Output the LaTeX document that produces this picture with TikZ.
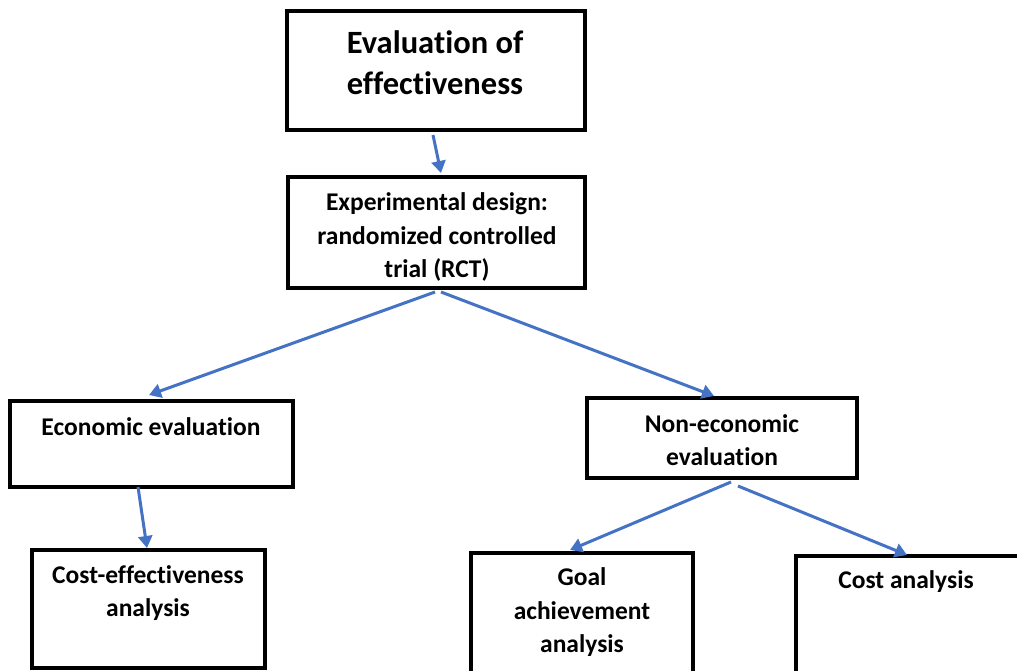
\documentclass[tikz,border=0pt]{standalone}
\usepackage{fontspec}
\setmainfont{Carlito}[Ligatures=CommonOff]
\usetikzlibrary{arrows.meta}
\definecolor{linkblue}{HTML}{4472C4}
\tikzset{
  box/.style={draw=black, line width=3.2pt, inner sep=0pt, fill=white},
  txt/.style={align=center, inner sep=0pt, font=\bfseries\fontsize{25.5}{33.5}\selectfont},
  title/.style={align=center, inner sep=0pt, font=\bfseries\fontsize{32.5}{41}\selectfont},
  arr/.style={draw=linkblue, line width=3pt, -{Triangle[length=12pt,width=14pt]}}
}
\begin{document}
\begin{tikzpicture}[x=1pt,y=-1pt]
\useasboundingbox (0,0) rectangle (1017,671);
\clip (0,0) rectangle (1017,671);
\fill[white] (0,0) rectangle (1017,671);

% boxes
\node[box, line width=3.6pt, minimum width=298pt, minimum height=119pt] (eval) at (436,70.5) {};
\node[box, minimum width=297pt, minimum height=111pt] (design) at (436.5,232.5) {};
\node[box, minimum width=283pt, minimum height=86pt] (econ) at (151.5,444) {};
\node[box, minimum width=270pt, minimum height=80pt] (nonecon) at (722,438) {};
\node[box, minimum width=233pt, minimum height=118pt] (cea) at (148.5,609) {};
\node[box, minimum width=222pt, minimum height=147pt] (goal) at (582,626.5) {};
\node[box, minimum width=234pt, minimum height=144pt] (cost) at (913,628) {};

% box texts
\node[title] (evalT) at (435,62.5) {Evaluation of\\effectiveness};
\node[txt] (designT) at (437,237) {Experimental design:\\randomized controlled\\trial (RCT)};
\node[txt] (econT) at (151,427) {Economic evaluation};
\node[txt] (noneconT) at (722,440) {Non-economic\\evaluation};
\node[txt] (ceaT) at (148,593) {Cost-effectiveness\\analysis};
\node[txt] (goalT) at (582,612.5) {Goal\\achievement\\analysis};
\node[txt] (costT) at (906,582) {Cost analysis};

% connector end points
\coordinate (s1) at (433,135);  \coordinate (e1) at (441,173);
\coordinate (s2) at (435,292);  \coordinate (e2) at (149,395);
\coordinate (s3) at (441,292);  \coordinate (e3) at (714,396);
\coordinate (s4) at (138,487);  \coordinate (e4) at (147,548);
\coordinate (s5) at (731,482);  \coordinate (e5) at (570,550);
\coordinate (s6) at (738,486);  \coordinate (e6) at (907,555);

% connectors
\draw[arr] (s1) -- (e1);
\draw[arr] (s2) -- (e2);
\draw[arr] (s3) -- (e3);
\draw[arr] (s4) -- (e4);
\draw[arr] (s5) -- (e5);
\draw[arr] (s6) -- (e6);
\end{tikzpicture}
\end{document}
